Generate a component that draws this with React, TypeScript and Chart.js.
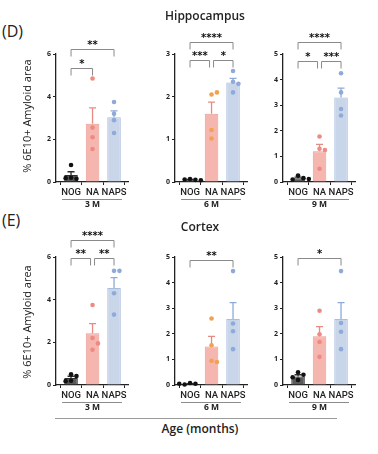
import React, { useEffect, useRef } from 'react';
import { Chart, registerables } from 'chart.js';

Chart.register(...registerables);

const FONT = "'Open Sans', 'DejaVu Sans', sans-serif";
const LABEL_FONT = "Roboto, 'Open Sans', sans-serif";

const GROUPS = ['NOG', 'NA', 'NAPS'];
const AGES = ['3 M', '6 M', '9 M'];

// ---- Hippocampus (D) ----
const HIP_3M_MEAN = [0.33, 2.73, 3.03];
const HIP_3M_SEM = [0.15, 0.74, 0.3];
const HIP_3M_NOG = [0.8, 0.2, 0.15, 0.18];
const HIP_3M_NA = [4.85, 2.55, 2.1, 1.55];
const HIP_3M_NAPS = [3.75, 3.2, 2.9, 2.3];
const HIP_3M_SIG = [
  { a: 0, b: 1, level: 5.35, label: '*' },
  { a: 0, b: 2, level: 6.25, label: '**' },
];

const HIP_6M_MEAN = [0.05, 1.6, 2.33];
const HIP_6M_SEM = [0.01, 0.27, 0.1];
const HIP_6M_NOG = [0.07, 0.05, 0.06, 0.04];
const HIP_6M_NA = [2.05, 2.1, 1.22, 1.02];
const HIP_6M_NAPS = [2.6, 2.35, 2.3, 2.1];
const HIP_6M_SIG = [
  { a: 0, b: 1, level: 2.86, label: '***' },
  { a: 1, b: 2, level: 2.86, label: '*' },
  { a: 0, b: 2, level: 3.28, label: '****' },
];

const HIP_9M_MEAN = [0.15, 1.2, 3.3];
const HIP_9M_SEM = [0.04, 0.27, 0.37];
const HIP_9M_NOG = [0.25, 0.15, 0.1, 0.12];
const HIP_9M_NA = [1.78, 1.3, 1.25, 0.52];
const HIP_9M_NAPS = [4.25, 3.5, 2.85, 2.6];
const HIP_9M_SIG = [
  { a: 0, b: 1, level: 4.73, label: '*' },
  { a: 1, b: 2, level: 4.73, label: '***' },
  { a: 0, b: 2, level: 5.47, label: '****' },
];

// ---- Cortex (E) ----
const CTX_3M_MEAN = [0.33, 2.43, 4.55];
const CTX_3M_SEM = [0.08, 0.45, 0.48];
const CTX_3M_NOG = [0.5, 0.42, 0.2, 0.18];
const CTX_3M_NA = [3.75, 2.2, 1.95, 1.65];
const CTX_3M_NAPS = [5.35, 5.35, 4.3, 3.3];
const CTX_3M_SIG = [
  { a: 0, b: 1, level: 5.95, label: '**' },
  { a: 1, b: 2, level: 5.95, label: '**' },
  { a: 0, b: 2, level: 6.8, label: '****' },
];

const CTX_6M_MEAN = [0.03, 1.5, 2.58];
const CTX_6M_SEM = [0.02, 0.4, 0.64];
const CTX_6M_NOG = [0.08, 0.05, 0.02, 0.05];
const CTX_6M_NA = [2.6, 1.55, 0.95, 0.9];
const CTX_6M_NAPS = [4.45, 2.4, 2.1, 1.4];
const CTX_6M_SIG = [{ a: 0, b: 2, level: 4.88, label: '**' }];

const CTX_9M_MEAN = [0.33, 1.9, 2.58];
const CTX_9M_SEM = [0.07, 0.38, 0.64];
const CTX_9M_NOG = [0.5, 0.4, 0.3, 0.2];
const CTX_9M_NA = [2.9, 1.98, 1.68, 1.1];
const CTX_9M_NAPS = [4.45, 2.42, 2.08, 1.4];
const CTX_9M_SIG = [{ a: 0, b: 2, level: 4.96, label: '*' }];

// ---- styles ----
const BAR_FILL = ['#5a5a5a', '#f5b6b0', '#c9d6ea'];
const BAR_BORDER = ['#2f2f2f', '#ec9b93', '#a9bedf'];
const ERR_COLOR = ['#2f2f2f', '#e98a82', '#8eaad9'];
const PT_RED = ['#111111', '#ef8a82', '#8eaad9'];
const PT_ORANGE = ['#111111', '#f2a150', '#8eaad9'];

const AREA_W = 72;
const AREA_H = 128;
const PAD_TOP = 40;
const Y_W = 30;
const X_H = 14;
const PAD_BOTTOM = 16;
const PAD_RIGHT = 6;
const CW = Y_W + AREA_W + PAD_RIGHT;
const CH = PAD_TOP + AREA_H + X_H + PAD_BOTTOM;

type Sig = { a: number; b: number; level: number; label: string };
type PanelCfg = {
  axisX: number;
  areaTop: number;
  max: number;
  step: number;
  mean: number[];
  sem: number[];
  points: number[][];
  pointColors: string[];
  sig: Sig[];
  age: string;
};

function Panel({ cfg }: { cfg: PanelCfg }) {
  const ref = useRef<HTMLCanvasElement>(null);
  useEffect(() => {
    const canvas = ref.current!;
    const overlay = {
      id: 'overlay',
      afterDraw(chart: any) {
        const ctx = chart.ctx as CanvasRenderingContext2D;
        const xs = chart.scales.x;
        const ys = chart.scales.y;
        const area = chart.chartArea;
        ctx.save();
        // error bars (upper)
        cfg.mean.forEach((m, i) => {
          const x = xs.getPixelForValue(i);
          const y0 = ys.getPixelForValue(m);
          const y1 = ys.getPixelForValue(m + cfg.sem[i]);
          ctx.strokeStyle = ERR_COLOR[i];
          ctx.lineWidth = 1.3;
          ctx.beginPath();
          ctx.moveTo(x, y0);
          ctx.lineTo(x, y1);
          ctx.moveTo(x - 3.5, y1);
          ctx.lineTo(x + 3.5, y1);
          ctx.stroke();
        });
        // points (simple beeswarm)
        const r = 2.3;
        const d = 2 * r + 0.8;
        cfg.points.forEach((vals, i) => {
          const cx = xs.getPixelForValue(i);
          const placed: { x: number; y: number }[] = [];
          vals.forEach((v) => {
            const y = ys.getPixelForValue(v);
            let x = cx;
            for (let k = 0; k < 14; k++) {
              const off = k === 0 ? 0 : Math.ceil(k / 2) * d * (k % 2 ? 1 : -1);
              const tx = cx + off;
              if (placed.every((p) => Math.hypot(p.x - tx, p.y - y) >= d)) {
                x = tx;
                break;
              }
            }
            placed.push({ x, y });
            ctx.fillStyle = cfg.pointColors[i];
            ctx.beginPath();
            ctx.arc(x, y, r, 0, Math.PI * 2);
            ctx.fill();
          });
        });
        // significance brackets
        cfg.sig.forEach((s) => {
          const y = Math.round(ys.getPixelForValue(s.level)) + 0.5;
          const shareA = cfg.sig.some(
            (o) => o !== s && o.level === s.level && (o.a === s.a || o.b === s.a)
          );
          const shareB = cfg.sig.some(
            (o) => o !== s && o.level === s.level && (o.a === s.b || o.b === s.b)
          );
          const xa = xs.getPixelForValue(s.a) + (shareA ? 2 : 0);
          const xb = xs.getPixelForValue(s.b) - (shareB ? 2 : 0);
          ctx.strokeStyle = '#8a8a8a';
          ctx.lineWidth = 1;
          ctx.beginPath();
          ctx.moveTo(xa, y + 7);
          ctx.lineTo(xa, y);
          ctx.lineTo(xb, y);
          ctx.lineTo(xb, y + 7);
          ctx.stroke();
          ctx.fillStyle = '#111';
          ctx.font = "bold 10px 'DejaVu Sans'";
          ctx.textAlign = 'center';
          ctx.textBaseline = 'alphabetic';
          ctx.fillText(s.label, (xa + xb) / 2, y - 1.5);
        });
        // group underline + age label
        const gx0 = xs.getPixelForValue(0) - 9;
        const gx1 = xs.getPixelForValue(2) + 8;
        const gy = Math.round(area.bottom + 17) + 0.5;
        ctx.strokeStyle = '#8c8c8c';
        ctx.lineWidth = 1;
        ctx.beginPath();
        ctx.moveTo(gx0, gy);
        ctx.lineTo(gx1, gy);
        ctx.stroke();
        ctx.fillStyle = '#222';
        ctx.font = `700 8.5px ${FONT}`;
        ctx.textAlign = 'center';
        ctx.textBaseline = 'middle';
        ctx.fillText(cfg.age, xs.getPixelForValue(1), area.bottom + 23);
        ctx.restore();
      },
    };
    const chart = new Chart(canvas, {
      type: 'bar',
      data: {
        datasets: [
          {
            data: cfg.mean.map((m, i) => ({ x: i, y: m })),
            backgroundColor: BAR_FILL,
            borderColor: BAR_BORDER,
            borderWidth: 1,
            barPercentage: 0.63,
            categoryPercentage: 1,
          } as any,
        ],
      },
      options: {
        responsive: false,
        animation: false,
        layout: { padding: { left: 0, top: PAD_TOP, right: PAD_RIGHT, bottom: PAD_BOTTOM } },
        plugins: { legend: { display: false }, tooltip: { enabled: false } },
        scales: {
          x: {
            type: 'linear',
            min: -0.7,
            max: 2.65,
            offset: false,
            afterBuildTicks: (s: any) => {
              s.ticks = [0, 1, 2].map((v) => ({ value: v }));
            },
            afterFit: (s: any) => {
              s.height = X_H;
            },
            ticks: {
              callback: (v: any) => GROUPS[v as number] ?? '',
              font: { family: LABEL_FONT, size: 9.5, weight: '500' },
              color: '#222',
              padding: 1.5,
              autoSkip: false,
              maxRotation: 0,
            },
            grid: {
              drawOnChartArea: false,
              drawTicks: true,
              tickLength: 3,
              tickColor: '#222',
              tickWidth: 1,
            },
            border: { color: '#222', width: 1.3 },
          } as any,
          y: {
            min: 0,
            max: cfg.max,
            afterFit: (s: any) => {
              s.width = Y_W;
            },
            ticks: {
              stepSize: cfg.step,
              font: { family: FONT, size: 7, weight: 'bold' },
              color: '#222',
              padding: 2,
            },
            grid: {
              drawOnChartArea: false,
              drawTicks: true,
              tickLength: 3,
              tickColor: '#222',
              tickWidth: 1,
            },
            border: { color: '#222', width: 1.3 },
          } as any,
        },
      },
      plugins: [overlay],
    });
    return () => chart.destroy();
  }, []);
  return (
    <canvas
      ref={ref}
      width={CW}
      height={CH}
      style={{
        position: 'absolute',
        left: cfg.axisX - Y_W,
        top: cfg.areaTop - PAD_TOP,
        width: CW,
        height: CH,
      }}
    />
  );
}

const TOP = 54;
const BOT = 257;
const AX = [56, 175, 283];

const PANELS: PanelCfg[] = [
  { axisX: AX[0], areaTop: TOP, max: 6, step: 2, mean: HIP_3M_MEAN, sem: HIP_3M_SEM, points: [HIP_3M_NOG, HIP_3M_NA, HIP_3M_NAPS], pointColors: PT_RED, sig: HIP_3M_SIG, age: AGES[0] },
  { axisX: AX[1], areaTop: TOP, max: 3, step: 1, mean: HIP_6M_MEAN, sem: HIP_6M_SEM, points: [HIP_6M_NOG, HIP_6M_NA, HIP_6M_NAPS], pointColors: PT_ORANGE, sig: HIP_6M_SIG, age: AGES[1] },
  { axisX: AX[2], areaTop: TOP, max: 5, step: 1, mean: HIP_9M_MEAN, sem: HIP_9M_SEM, points: [HIP_9M_NOG, HIP_9M_NA, HIP_9M_NAPS], pointColors: PT_RED, sig: HIP_9M_SIG, age: AGES[2] },
  { axisX: AX[0], areaTop: BOT, max: 6, step: 2, mean: CTX_3M_MEAN, sem: CTX_3M_SEM, points: [CTX_3M_NOG, CTX_3M_NA, CTX_3M_NAPS], pointColors: PT_RED, sig: CTX_3M_SIG, age: AGES[0] },
  { axisX: AX[1], areaTop: BOT, max: 5, step: 1, mean: CTX_6M_MEAN, sem: CTX_6M_SEM, points: [CTX_6M_NOG, CTX_6M_NA, CTX_6M_NAPS], pointColors: PT_ORANGE, sig: CTX_6M_SIG, age: AGES[1] },
  { axisX: AX[2], areaTop: BOT, max: 5, step: 1, mean: CTX_9M_MEAN, sem: CTX_9M_SEM, points: [CTX_9M_NOG, CTX_9M_NA, CTX_9M_NAPS], pointColors: PT_RED, sig: CTX_9M_SIG, age: AGES[2] },
];

const centered = (x: number, y: number, extra: React.CSSProperties = {}): React.CSSProperties => ({
  position: 'absolute',
  left: x,
  top: y,
  transform: 'translate(-50%, -50%)',
  whiteSpace: 'nowrap',
  lineHeight: 1,
  fontFamily: FONT,
  color: '#222',
  ...extra,
});

export default function App() {
  return (
    <div
      style={{
        position: 'fixed',
        left: 0,
        top: 0,
        width: 378,
        height: 454,
        background: '#fff',
        overflow: 'hidden',
        fontFamily: FONT,
      }}
    >
      {PANELS.map((p, i) => (
        <Panel key={i} cfg={p} />
      ))}
      <div style={{ position: 'absolute', left: 2, top: 23, fontSize: 16, lineHeight: '16px', fontFamily: FONT, color: '#222' }}>(D)</div>
      <div style={{ position: 'absolute', left: 2, top: 212, fontSize: 16, lineHeight: '16px', fontFamily: FONT, color: '#222' }}>(E)</div>
      <div style={centered(205, 16, { fontSize: 12, fontWeight: 600 })}>Hippocampus</div>
      <div style={centered(200, 227, { fontSize: 12, fontWeight: 600 })}>Cortex</div>
      <div style={centered(26, 116, { fontSize: 11, fontWeight: 500, transform: 'translate(-50%, -50%) rotate(-90deg)' })}>
        % 6E10+ Amyloid area
      </div>
      <div style={centered(26, 322, { fontSize: 11, fontWeight: 500, transform: 'translate(-50%, -50%) rotate(-90deg)' })}>
        % 6E10+ Amyloid area
      </div>
      <div style={{ position: 'absolute', left: 55, top: 417.5, width: 282, height: 1.2, background: '#9a9a9a' }} />
      <div style={centered(200, 429, { fontSize: 12, fontWeight: 600 })}>Age (months)</div>
    </div>
  );
}
